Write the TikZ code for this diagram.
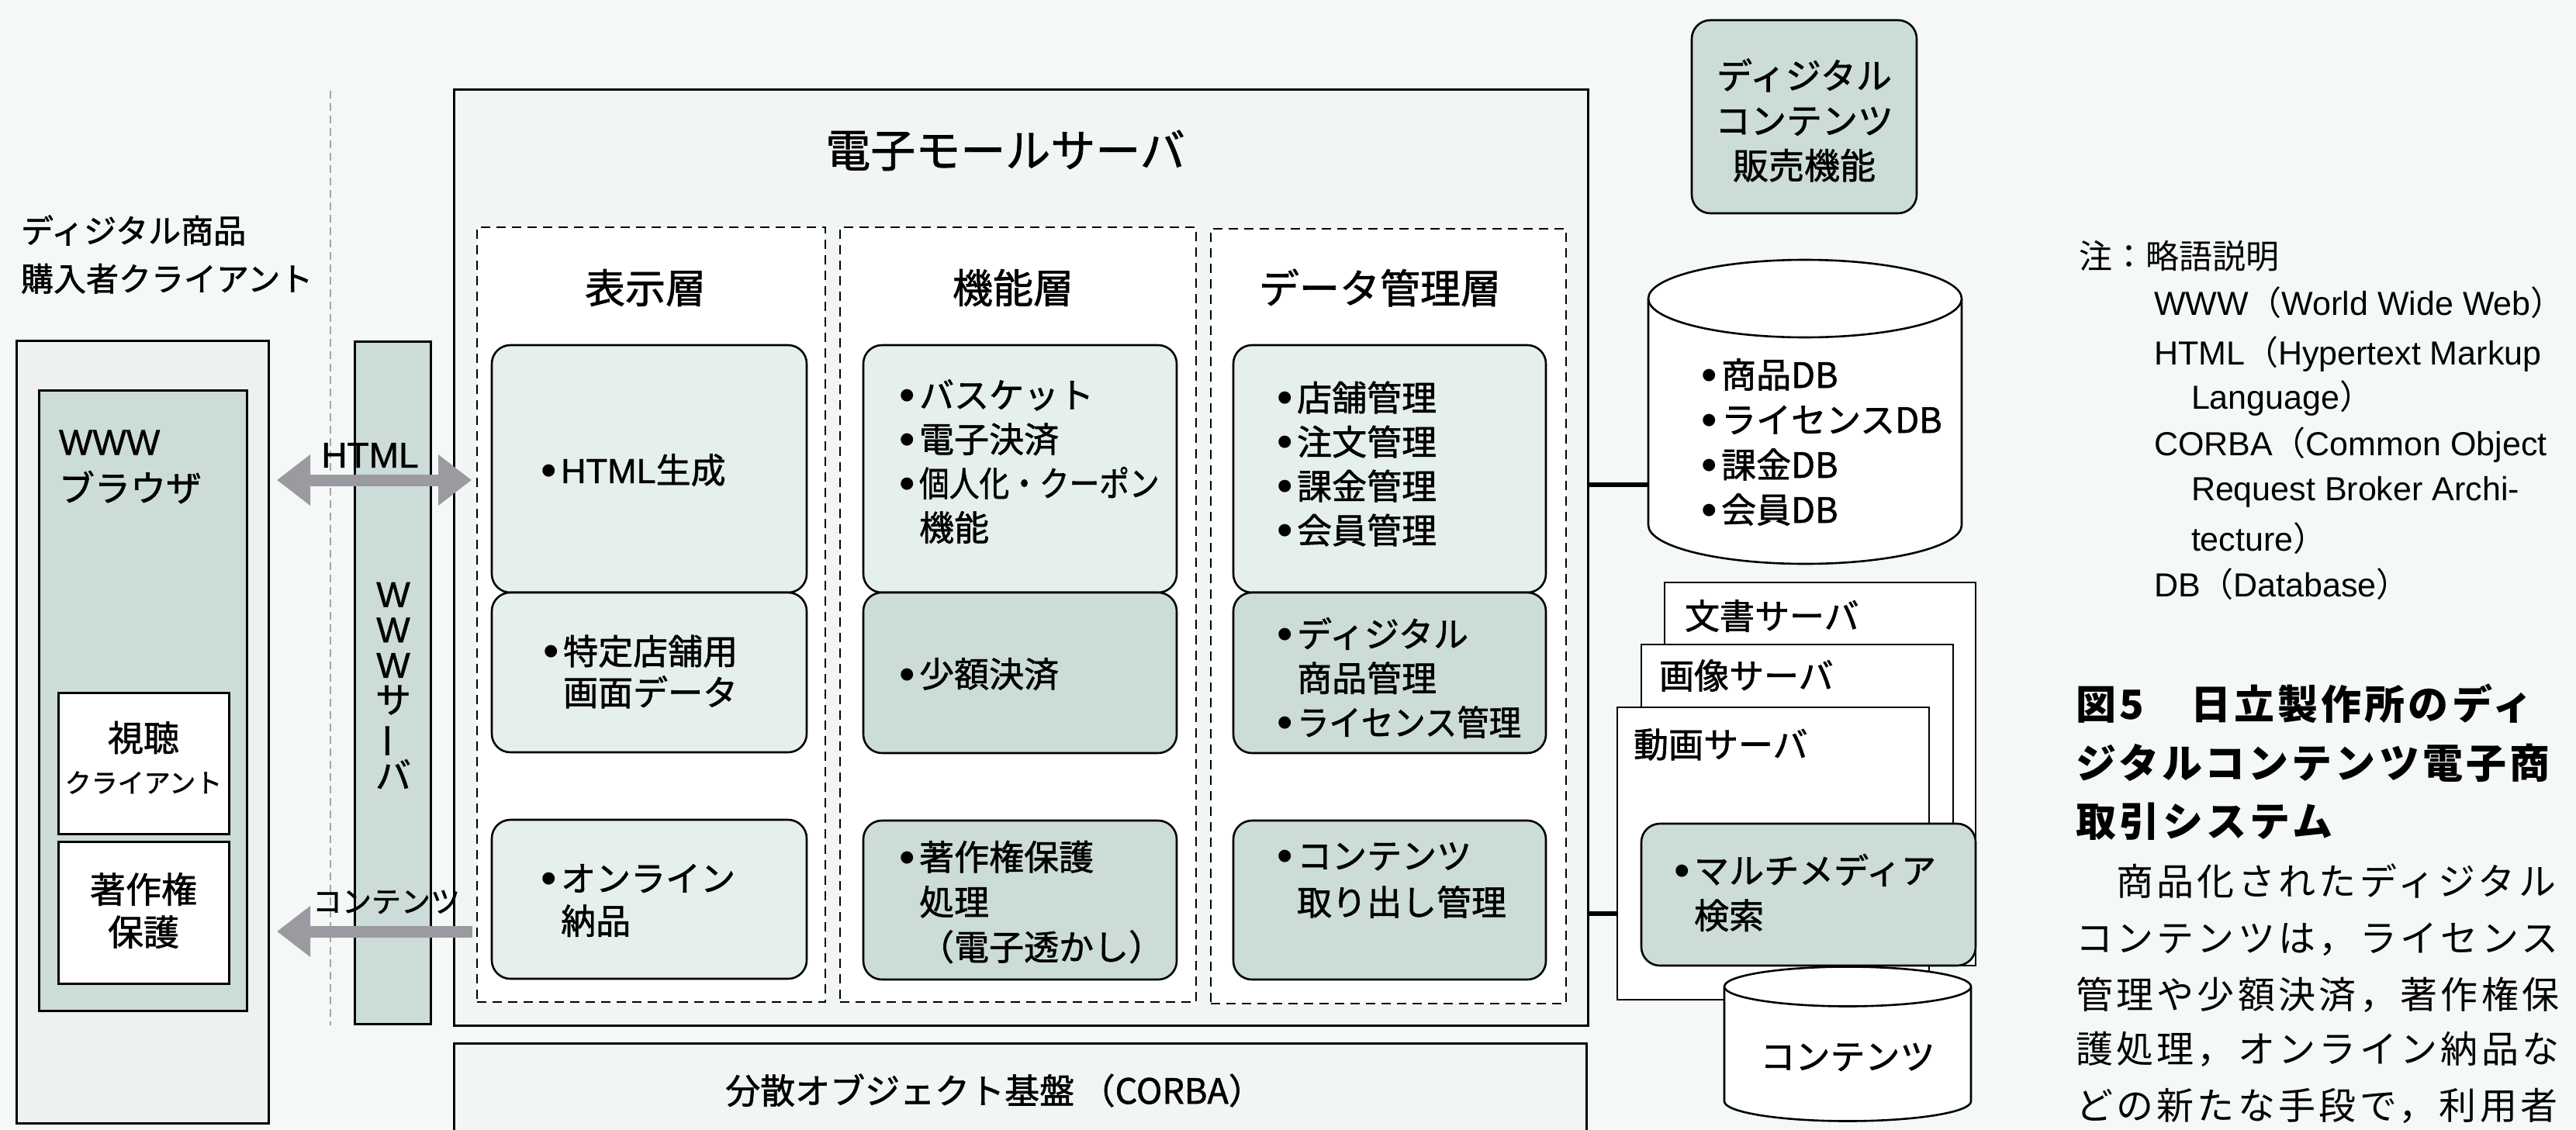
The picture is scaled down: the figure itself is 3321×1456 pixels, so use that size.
\documentclass[tikz,border=0pt]{standalone}
\usepackage{fontspec}
\setmainfont{Noto Sans CJK JP}[FakeBold=1.3]
\newfontfamily\jp{Noto Sans CJK JP}
\newfontfamily\lib{Liberation Sans}
\newfontfamily\libd{Liberation Sans}[FakeBold=1]
\newfontfamily\capfont{Noto Sans CJK JP}[LetterSpace=8]
\newfontfamily\bodyfont{Noto Sans CJK JP}[LetterSpace=9]
\usetikzlibrary{fit,arrows.meta,calc}
\definecolor{bgc}{RGB}{244,248,246}
\definecolor{outerc}{RGB}{237,242,239}
\definecolor{mallc}{RGB}{241,246,243}
\definecolor{darkc}{RGB}{204,220,216}
\definecolor{lightc}{RGB}{229,239,236}
\definecolor{arrowc}{RGB}{156,154,161}
\newcommand\fz[2]{\fontsize{#1pt}{#2pt}\selectfont}
\newcommand\bu{\makebox[0.58em][l]{\raisebox{-0.07em}{\scalebox{1.3}{\lib •}}}}
\newcommand\myind{\hspace*{0.58em}}
\tikzset{
  every node/.style={inner sep=0pt, outer sep=0pt},
  solidbox/.style={draw, line width=3pt},
  srvbox/.style={draw, line width=2.6pt, fill=white},
  rbox/.style={draw, line width=2.6pt, rounded corners=24pt},
  dbox/.style={draw, line width=2.4pt, dash pattern=on 12pt off 8pt, fill=white},
  lightfill/.style={fill=lightc},
  darkfill/.style={fill=darkc},
  fatarrow/.style={draw=arrowc, line width=15pt, line cap=butt},
  lnk/.style={line width=6pt},
  boxtext/.style={anchor=west, align=left, font=\fz{45}{57}},
  notetext/.style={anchor=west, font=\lib\fz{43}{60}},
  captext/.style={anchor=west, font=\capfont\bfseries\fz{52}{76}},
  bodytext/.style={anchor=west, font=\bodyfont\fz{48}{72}}
}
\begin{document}
\begin{tikzpicture}[x=1pt,y=-1pt]
\useasboundingbox (0,0) rectangle (3321,1456);
\clip (0,0) rectangle (3321,1456);
\fill[bgc] (0,0) rectangle (3321,1456);

% separator
\draw[gray!70, line width=2pt, dash pattern=on 10pt off 6pt] (426,117) -- (426,1322);

% client side
\node[anchor=west, align=left, font=\fz{42}{62}] (clabel) at (27,328) {ディジタル商品\\購入者クライアント};
\node[solidbox, fill=outerc, fit={(21,439) (346,1448)}] (client) {};
\node[solidbox, darkfill, fit={(50,503) (318,1303)}] (browser) {};
\node[anchor=west, align=left, font=\fz{46}{60}] (tbrowser) at (76,602) {{\libd WWW}\\ブラウザ};
\node[solidbox, fill=white, fit={(75,893) (295,1075)}] (view) {};
\node[font=\fz{46}{58}] (tview1) at (185,951) {視聴};
\node[font=\fz{34}{40}] (tview2) at (185,1009) {クライアント};
\node[solidbox, fill=white, fit={(75,1085) (295,1268)}] (copyr) {};
\node[align=center, font=\fz{46}{55}] (tcopyr) at (185,1174) {著作権\\保護};

% WWW server column
\node[solidbox, darkfill, fit={(457,440) (555,1320)}] (wwwsrv) {};
\node[align=center, font=\fz{46}{45.6}] (twwwsrv) at (507,884) {{\libd W}\\{\libd W}\\{\libd W}\\サ\\\rotatebox[origin=c]{90}{ー}\\バ};

% mall server
\node[solidbox, fill=mallc, fit={(585,115) (2047,1322)}] (mall) {};
\node[font=\fz{58}{66}] (tmall) at (1296,194) {電子モールサーバ};

\node[dbox, fit={(615,293) (1064,1292)}] (L1) {};
\node[dbox, fit={(1083,293) (1542,1292)}] (L2) {};
\node[dbox, fit={(1561,295) (2019,1294)}] (L3) {};
\node[font=\fz{52}{60}] (tL1) at (832,371) {表示層};
\node[font=\fz{52}{60}] (tL2) at (1306,371) {機能層};
\node[font=\fz{52}{60}] (tL3) at (1779,371) {データ管理層};

% presentation layer
\node[rbox, lightfill, fit={(634,445) (1040,764)}] (p1) {};
\node[rbox, lightfill, fit={(634,764) (1040,970)}] (p2) {};
\node[rbox, lightfill, fit={(634,1057) (1040,1262)}] (p3) {};
\node[boxtext] (tp1) at (697,606) {\bu {\libd HTML}生成};
\node[boxtext, font=\fz{45}{53}] (tp2) at (700,866) {\bu 特定店舗用\\\myind 画面データ};
\node[boxtext, font=\fz{45}{55}] (tp3) at (697,1161) {\bu オンライン\\\myind 納品};

% function layer
\node[rbox, lightfill, fit={(1113,445) (1517,764)}] (f1) {};
\node[rbox, darkfill, fit={(1113,764) (1517,971)}] (f2) {};
\node[rbox, darkfill, fit={(1113,1058) (1517,1263)}] (f3) {};
\node[boxtext] (tf1) at (1159,595) {\bu バスケット\\\bu 電子決済\\\bu \scalebox{0.86}[1]{個人化・クーポン}\\\myind 機能};
\node[boxtext] (tf2) at (1159,869) {\bu 少額決済};
\node[boxtext, font=\fz{45}{58}] (tf3) at (1159,1163) {\bu 著作権保護\\\myind 処理\\\myind （電子透かし）};

% data layer
\node[rbox, lightfill, fit={(1590,445) (1993,764)}] (d1) {};
\node[rbox, darkfill, fit={(1590,764) (1993,971)}] (d2) {};
\node[rbox, darkfill, fit={(1590,1058) (1993,1263)}] (d3) {};
\node[boxtext] (td1) at (1646,598) {\bu 店舗管理\\\bu 注文管理\\\bu 課金管理\\\bu 会員管理};
\node[boxtext] (td2) at (1646,874) {\bu ディジタル\\\myind 商品管理\\\bu \scalebox{0.92}[1]{ライセンス管理}};
\node[boxtext, font=\fz{45}{60}] (td3) at (1646,1135) {\bu コンテンツ\\\myind 取り出し管理};

% CORBA
\node[solidbox, fill=mallc, fit={(585,1345) (2045,1480)}] (corba) {};
\node[font=\fz{45}{50}] (tcorba) at (1282,1406) {分散オブジェクト基盤\,（CORBA）};

% arrows
\coordinate (hy) at (0,619);
\coordinate (cy) at (0,1201);
\draw[fatarrow, {Triangle[width=63pt,length=43pt]}-{Triangle[width=63pt,length=43pt]}, shorten <=11pt, shorten >=7pt] (client.east |- hy) -- (L1.west |- hy);
\draw[fatarrow, -{Triangle[width=63pt,length=43pt]}, shorten <=6pt, shorten >=11pt] (L1.west |- cy) -- (client.east |- cy);
\node[font=\libd\fz{46}{50}] (thtml) at (477,587) {HTML};
\node[font=\fz{38}{44}] (tcont) at (498,1163) {コンテンツ};

% digital content sales
\node[rbox, darkfill, fit={(2181,26) (2471,275)}] (sales) {};
\node[align=center, font=\fz{46}{58}] (tsales) at (2326,155) {ディジタル\\コンテンツ\\販売機能};

% DB cylinder
\node[fit={(2125,334) (2529,727)}] (db) {};
\filldraw[fill=white, line width=2.6pt] (2125,385) -- (2125,677) arc[start angle=180, end angle=360, x radius=202pt, y radius=50pt] -- (2529,385);
\filldraw[fill=white, line width=2.6pt] (2327,385) ellipse[x radius=202pt, y radius=50pt];
\node[boxtext, font=\fz{45}{58}] (tdb) at (2193,570) {\bu 商品DB\\\bu ライセンスDB\\\bu 課金DB\\\bu 会員DB};
\coordinate (l1y) at (0,625);
\draw[lnk] (mall.east |- l1y) -- (db.west |- l1y);

% servers
\node[srvbox, fit={(2146,751) (2547,1245)}] (doc) {};
\node[anchor=west, font=\fz{45}{50}] (tdoc) at (2172,794) {文書サーバ};
\node[srvbox, fit={(2116,831) (2518,1245)}] (img) {};
\node[anchor=west, font=\fz{45}{50}] (timg) at (2139,871) {画像サーバ};
\node[srvbox, fit={(2085,912) (2487,1289)}] (vid) {};
\node[anchor=west, font=\fz{45}{50}] (tvid) at (2106,960) {動画サーバ};
\node[rbox, darkfill, fit={(2116,1062) (2547,1245)}] (mm) {};
\node[boxtext, font=\fz{45}{58}] (tmm) at (2158,1151) {\bu マルチメディア\\\myind 検索};
\coordinate (l2y) at (0,1178);
\draw[lnk] (mall.east |- l2y) -- (vid.west |- l2y);

% contents cylinder
\node[fit={(2223,1247) (2541,1446)}] (cont) {};
\filldraw[fill=white, line width=2.6pt] (2223,1272) -- (2223,1420) arc[start angle=180, end angle=360, x radius=159pt, y radius=25.5pt] -- (2541,1272);
\filldraw[fill=white, line width=2.6pt] (2382,1272) ellipse[x radius=159pt, y radius=25.5pt];
\node[font=\fz{45}{50}] (tcontdb) at (2382,1363) {コンテンツ};

% notes
\node[anchor=west, font=\jp\fz{43}{60}] (n0) at (2680,330) {注：略語説明};
\node[notetext] (n1) at (2777,390) {WWW{\jp（}World Wide Web{\jp）}};
\node[notetext] (n2) at (2777,457) {HTML{\jp（}Hypertext Markup};
\node[notetext] (n3) at (2825,514) {Language{\jp）}};
\node[notetext] (n4) at (2777,574) {CORBA{\jp（}Common Object};
\node[notetext] (n5) at (2825,634) {Request Broker Archi-};
\node[notetext] (n6) at (2825,694) {tecture{\jp）}};
\node[notetext] (n7) at (2777,753) {DB{\jp（}Database{\jp）}};

% caption
\node[captext] (c1) at (2676,907) {図5　日立製作所のディ};
\node[captext] (c2) at (2676,984) {ジタルコンテンツ電子商};
\node[captext] (c3) at (2676,1059) {取引システム};
\node[bodytext] (b1) at (2676,1136) {　商品化されたディジタル};
\node[bodytext] (b2) at (2676,1211) {コンテンツは，ライセンス};
\node[bodytext] (b3) at (2676,1283) {管理や少額決済，著作権保};
\node[bodytext] (b4) at (2676,1353) {護処理，オンライン納品な};
\node[bodytext] (b5) at (2676,1426) {どの新たな手段で，利用者};
\end{tikzpicture}
\end{document}
